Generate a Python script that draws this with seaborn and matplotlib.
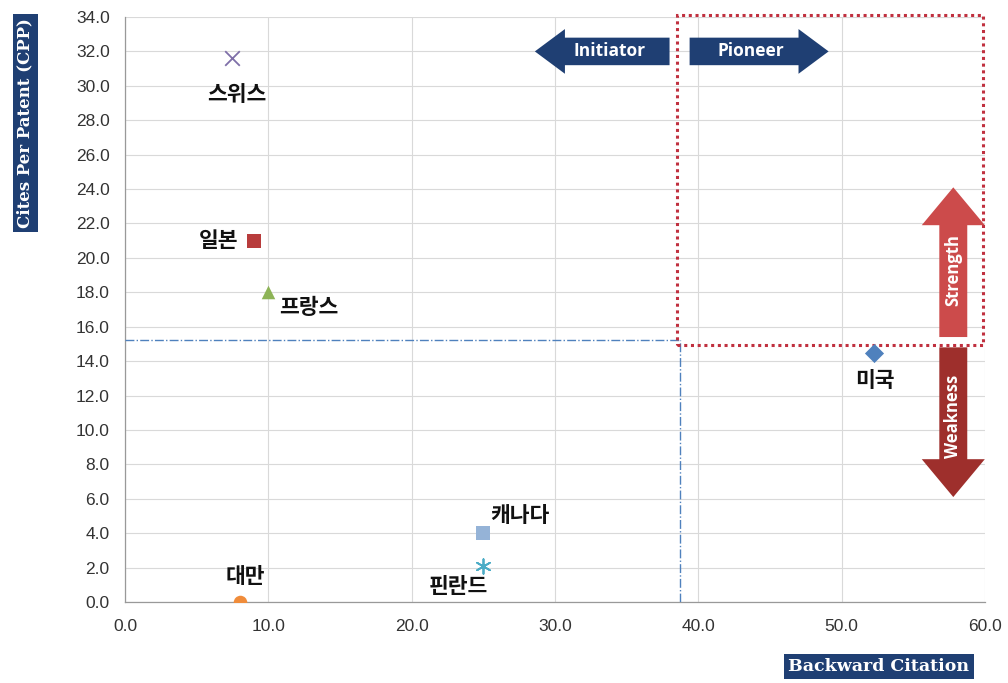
import numpy as np
import pandas as pd
import seaborn as sns
import matplotlib.pyplot as plt
from matplotlib.patches import FancyArrow, Rectangle

# data
countries = ["스위스", "일본", "프랑스", "미국", "캐나다", "핀란드", "대만"]
backward = [7.5, 9.0, 10.0, 52.3, 25.0, 25.0, 8.0]
cpp = [31.6, 21.0, 18.0, 14.5, 4.0, 2.1, 0.0]
markers = ["x", "s", "^", "D", "s", (6, 2, 0), "o"]
colors = ["#7F6FA8", "#B83C3C", "#8DB356", "#4F81BD", "#95B3D7", "#4BACC6", "#F08C3A"]
# label offsets (points) and alignment
offsets = [(3, -26), (-11, 0), (8, -11), (0, -20), (5, 13), (-18, -15), (4, 18)]
aligns = ["center", "right", "left", "center", "left", "center", "center"]

x_cut = 38.7
y_cut = 15.2

df = pd.DataFrame({"country": countries, "backward": backward, "cpp": cpp})

sns.set_style("white")
plt.rcParams['font.family'] = ['Noto Sans CJK KR', 'DejaVu Sans']

fig = plt.figure(figsize=(10.08, 6.83), dpi=100)
ax = fig.add_axes([0.124, 0.1186, 0.853, 0.8565])

for i, row in df.iterrows():
    sns.scatterplot(x=[row["backward"]], y=[row["cpp"]], marker=markers[i], color=colors[i],
                    s=110 if markers[i] in ("x", (6, 2, 0)) else 95,
                    linewidth=1.3 if markers[i] in ("x", (6, 2, 0)) else 0,
                    ax=ax, zorder=5, legend=False)
    ax.annotate(row["country"], (row["backward"], row["cpp"]), xytext=offsets[i],
                textcoords="offset points", ha=aligns[i], va="center",
                fontsize=15.5, fontweight="bold", color="#111111", zorder=6)

ax.set_xlim(0, 60)
ax.set_ylim(0, 34)
ax.set_xticks(np.arange(0, 61, 10))
ax.set_yticks(np.arange(0, 35, 2))
ax.set_xticklabels([f"{v:.1f}" for v in np.arange(0, 61, 10)], family="Liberation Sans")
ax.set_yticklabels([f"{v:.1f}" for v in np.arange(0, 35, 2)], family="Liberation Sans")
ax.tick_params(axis="both", labelsize=12.5, labelcolor="#333333", length=4, color="#999999",
               direction="out", width=0.8)
ax.tick_params(axis="x", pad=8)
ax.tick_params(axis="y", pad=7)
ax.grid(True, color="#D9D9D9", lw=0.8)
ax.set_axisbelow(True)
for s in ["top", "right"]:
    ax.spines[s].set_visible(False)
for s in ["left", "bottom"]:
    ax.spines[s].set_color("#999999")
    ax.spines[s].set_linewidth(0.9)
ax.set_xlabel("")
ax.set_ylabel("")

# cut-off lines
ax.plot([0, x_cut], [y_cut, y_cut], color="#4F81BD", lw=1, ls="-.", zorder=3)
ax.plot([x_cut, x_cut], [0, y_cut], color="#4F81BD", lw=1, ls="-.", zorder=3)

# dotted box
ax.add_patch(Rectangle((38.5, 14.95), 21.4, 19.15, fill=False, ec="#C0303F", lw=2.2,
                       ls=(0, (1, 1.2)), clip_on=False, zorder=4))

# arrows
navy = "#1F3F73"
ax.add_patch(FancyArrow(38.0, 32.0, -9.4, 0, width=1.6, head_width=2.6, head_length=2.1,
                        length_includes_head=True, color=navy, ec="none", zorder=4, clip_on=False))
ax.text(33.8, 32.0, "Initiator", color="white", fontsize=12.5, fontweight="bold",
        ha="center", va="center", family=["Open Sans", "DejaVu Sans"], zorder=5)
ax.add_patch(FancyArrow(39.4, 32.0, 9.7, 0, width=1.6, head_width=2.6, head_length=2.1,
                        length_includes_head=True, color=navy, ec="none", zorder=4, clip_on=False))
ax.text(43.7, 32.0, "Pioneer", color="white", fontsize=12.5, fontweight="bold",
        ha="center", va="center", family=["Open Sans", "DejaVu Sans"], zorder=5)

ax.add_patch(FancyArrow(57.8, 15.4, 0, 8.7, width=1.95, head_width=4.4, head_length=2.2,
                        length_includes_head=True, color="#CC4B4B", ec="none", zorder=4, clip_on=False))
ax.text(57.8, 19.3, "Strength", color="white", fontsize=12, fontweight="bold", rotation=90,
        ha="center", va="center", family=["Open Sans", "DejaVu Sans"], zorder=5)
ax.add_patch(FancyArrow(57.8, 14.8, 0, -8.7, width=1.95, head_width=4.4, head_length=2.2,
                        length_includes_head=True, color="#9E2F2C", ec="none", zorder=4, clip_on=False))
ax.text(57.8, 10.8, "Weakness", color="white", fontsize=12, fontweight="bold", rotation=90,
        ha="center", va="center", family=["Open Sans", "DejaVu Sans"], zorder=5)

# axis titles in boxes
box = dict(boxstyle="square,pad=0.25", fc=navy, ec="none")
fig.text(0.025, 0.82, "Cites Per Patent (CPP)", rotation=90, color="white", fontsize=12,
         fontweight="bold", family="DejaVu Serif", ha="center", va="center", bbox=box)
fig.text(0.872, 0.024, "Backward Citation", color="white", fontsize=12.5,
         fontweight="bold", family="DejaVu Serif", ha="center", va="center", bbox=box)

plt.savefig("out.png", dpi=100)
